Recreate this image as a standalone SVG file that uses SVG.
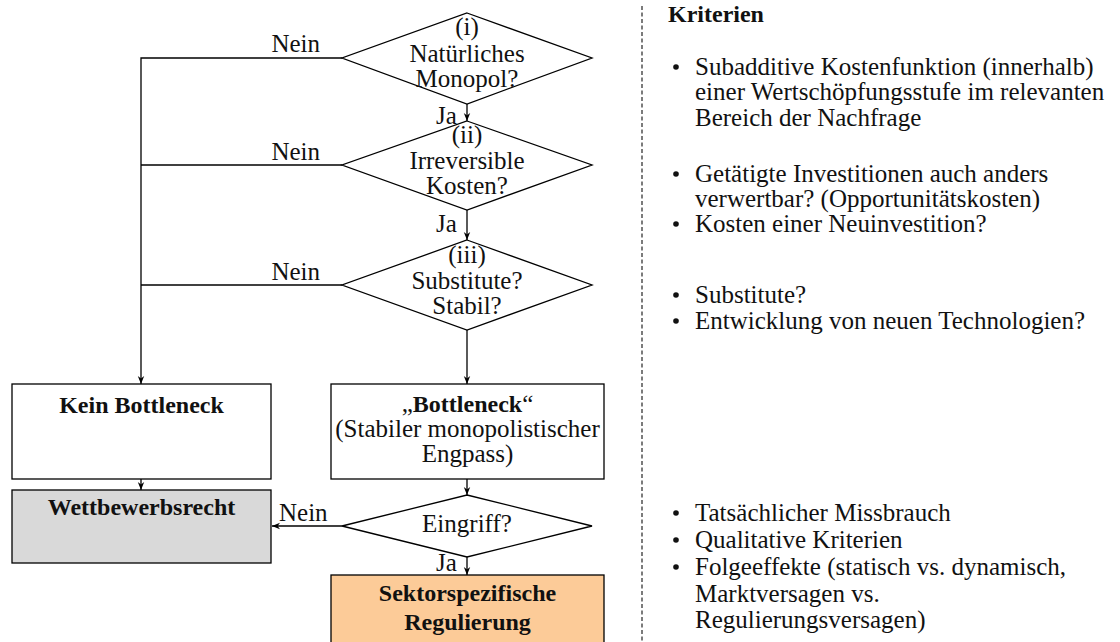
<svg xmlns="http://www.w3.org/2000/svg" width="1120" height="642" viewBox="0 0 1120 642">
  <defs>
    <marker id="arrow" viewBox="0 0 10 10" refX="10" refY="5" markerWidth="8" markerHeight="8" markerUnits="userSpaceOnUse" orient="auto">
      <path d="M0,1 L10,5 L0,9 L3,5 Z" fill="#000"/>
    </marker>
    <style>
      text { font-family: "Liberation Serif", "Times New Roman", serif; font-size: 25px; fill: #111; }
      .b { font-weight: bold; font-size: 24px; }
      .c { text-anchor: middle; }
      .e { text-anchor: end; }
      .shape { fill: #fff; stroke: #000; stroke-width: 1.3; }
      .link { fill: none; stroke: #000; stroke-width: 1.3; }
      .arr { fill: none; stroke: #000; stroke-width: 1.3; marker-end: url(#arrow); }
    </style>
  </defs>
  <rect width="1120" height="642" fill="#fff"/>

  <!-- connectors -->
  <g id="connectors">
    <polyline class="link" points="342,58 141,58 141,165"/>
    <line class="link" x1="342" y1="165" x2="141" y2="165"/>
    <line class="link" x1="342" y1="285" x2="141" y2="285"/>
    <line class="arr" x1="141" y1="165" x2="141" y2="384"/>
    <line class="arr" x1="467" y1="104" x2="467" y2="121"/>
    <line class="arr" x1="467" y1="210" x2="467" y2="240"/>
    <line class="arr" x1="467" y1="330" x2="467" y2="384"/>
    <line class="arr" x1="141" y1="479" x2="141" y2="490"/>
    <line class="arr" x1="467" y1="479" x2="467" y2="495"/>
    <line class="arr" x1="342" y1="526" x2="272" y2="526"/>
    <line class="arr" x1="467" y1="557" x2="467" y2="575"/>
    <text class="e" x="320" y="52">Nein</text>
    <text class="e" x="320" y="160">Nein</text>
    <text class="e" x="320" y="280">Nein</text>
    <text x="436" y="124">Ja</text>
    <text x="436" y="232">Ja</text>
    <text x="279" y="521">Nein</text>
    <text x="436" y="571">Ja</text>
  </g>

  <!-- decision (i) -->
  <g id="q-monopol">
    <polygon class="shape" points="467,13 592,58 467,104 342,58"/>
    <text class="c" x="467" y="35">(i)</text>
    <text class="c" x="467" y="62">Natürliches</text>
    <text class="c" x="467" y="87">Monopol?</text>
  </g>

  <!-- decision (ii) -->
  <g id="q-kosten">
    <polygon class="shape" points="467,121 592,165 467,210 342,165"/>
    <text class="c" x="467" y="143">(ii)</text>
    <text class="c" x="467" y="169">Irreversible</text>
    <text class="c" x="467" y="194">Kosten?</text>
  </g>

  <!-- decision (iii) -->
  <g id="q-substitute">
    <polygon class="shape" points="467,240 592,285 467,330 342,285"/>
    <text class="c" x="467" y="263">(iii)</text>
    <text class="c" x="467" y="289">Substitute?</text>
    <text class="c" x="467" y="314">Stabil?</text>
  </g>

  <!-- outcome: no bottleneck -->
  <g id="kein-bottleneck">
    <rect class="shape" x="12" y="384" width="259" height="95"/>
    <text class="c b" x="141.5" y="413">Kein Bottleneck</text>
  </g>

  <!-- outcome: bottleneck -->
  <g id="bottleneck">
    <rect class="shape" x="331" y="384" width="273" height="95"/>
    <text class="c" x="467.5" y="412">„<tspan class="b">Bottleneck</tspan>“</text>
    <text class="c" x="467.5" y="437">(Stabiler monopolistischer</text>
    <text class="c" x="467.5" y="462">Engpass)</text>
  </g>

  <!-- competition law -->
  <g id="wettbewerbsrecht">
    <rect class="shape" x="12" y="490" width="259" height="73" style="fill:#d9d9d9"/>
    <text class="c b" x="141.5" y="515">Wettbewerbsrecht</text>
  </g>

  <!-- decision: intervention -->
  <g id="q-eingriff">
    <polygon class="shape" points="467,495 592,526 467,557 342,526"/>
    <text class="c" x="467" y="532">Eingriff?</text>
  </g>

  <!-- sector-specific regulation -->
  <g id="regulierung">
    <rect class="shape" x="331" y="575" width="273" height="70" style="fill:#fccb98"/>
    <text class="c b" x="467.5" y="601">Sektorspezifische</text>
    <text class="c b" x="467.5" y="630">Regulierung</text>
  </g>

  <!-- separator -->
  <line x1="642" y1="6" x2="642" y2="642" stroke="#444" stroke-width="1.4" stroke-dasharray="4,2.5"/>

  <!-- criteria column -->
  <g id="kriterien">
    <text class="b" x="668" y="22">Kriterien</text>
    <g fill="#111">
      <circle cx="676" cy="67" r="2.8"/>
      <circle cx="676" cy="174" r="2.8"/>
      <circle cx="676" cy="224" r="2.8"/>
      <circle cx="676" cy="295" r="2.8"/>
      <circle cx="676" cy="321" r="2.8"/>
      <circle cx="676" cy="513" r="2.8"/>
      <circle cx="676" cy="540" r="2.8"/>
      <circle cx="676" cy="567" r="2.8"/>
    </g>
    <text x="695" y="75">Subadditive Kostenfunktion (innerhalb)</text>
    <text x="695" y="100">einer Wertschöpfungsstufe im relevanten</text>
    <text x="695" y="126">Bereich der Nachfrage</text>
    <text x="695" y="182">Getätigte Investitionen auch anders</text>
    <text x="695" y="207">verwertbar? (Opportunitätskosten)</text>
    <text x="695" y="232">Kosten einer Neuinvestition?</text>
    <text x="695" y="303">Substitute?</text>
    <text x="695" y="329">Entwicklung von neuen Technologien?</text>
    <text x="695" y="521">Tatsächlicher Missbrauch</text>
    <text x="695" y="548">Qualitative Kriterien</text>
    <text x="695" y="575">Folgeeffekte (statisch vs. dynamisch,</text>
    <text x="695" y="602">Marktversagen vs.</text>
    <text x="695" y="628">Regulierungsversagen)</text>
  </g>
</svg>
